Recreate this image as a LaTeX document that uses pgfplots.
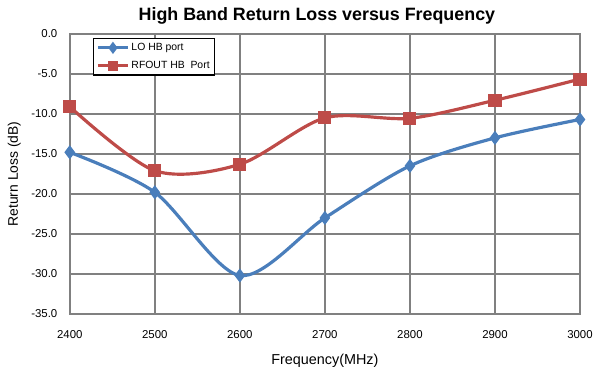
\documentclass[border=0pt]{standalone}
\usepackage{pgfplots}
\pgfplotsset{compat=1.18}
\usepackage{fontspec}
\setmainfont{Liberation Sans}
\definecolor{loblue}{HTML}{4A7EBB}
\definecolor{rfred}{HTML}{BE4B48}
\definecolor{gridgray}{HTML}{808080}
\begin{document}
\begin{tikzpicture}
\begin{axis}[
  name=ax,
  scale only axis,
  width=512bp, height=281bp,
  xmin=2400, xmax=3000, ymin=-35, ymax=0,
  xtick={2400,2500,...,3000},
  ytick={-35,-30,...,0},
  /pgf/number format/assume math mode=true,
  xticklabel style={font=\fontsize{11.5}{13}\selectfont, /pgf/number format/1000 sep={}, anchor=base, yshift=-25bp},
  yticklabel style={font=\fontsize{11.5}{13}\selectfont, anchor=east, xshift=-9bp, /pgf/number format/.cd, fixed, fixed zerofill, precision=1},
  scaled ticks=false,
  grid=major,
  major grid style={gridgray, line width=1.8bp},
  axis line style={gridgray, line width=1.8bp},
  tick style={draw=none},
  legend style={at={(rel axis cs:0.045,0.986)}, anchor=north west, draw=black, line width=1.4bp,
    font=\fontsize{10.5}{12}\selectfont, row sep=5bp, inner xsep=3bp, inner ysep=3bp},
  legend cell align=left,
  legend image code/.code={\draw[mark repeat=2,mark phase=2,#1, mark size=3.5bp] plot coordinates {(0bp,0bp)(15bp,0bp)(30bp,0bp)};},
  clip=false,
]
\addplot[loblue, line width=3.2bp, smooth, tension=0.5, mark=diamond*, mark size=4.5bp, mark options={solid, fill=loblue}]
  coordinates {(2400,-14.8) (2500,-19.8) (2600,-30.2) (2700,-23.0) (2800,-16.5) (2900,-13.0) (3000,-10.7)};
\addlegendentry{LO HB port}
\addplot[rfred, line width=3.2bp, smooth, tension=0.5, mark=square*, mark size=5bp, mark options={solid, fill=rfred}]
  coordinates {(2400,-9.1) (2500,-17.1) (2600,-16.3) (2700,-10.5) (2800,-10.55) (2900,-8.3) (3000,-5.65)};
\addlegendentry{RFOUT HB\ \ Port}
\end{axis}
\node[font=\fontsize{18}{20}\selectfont\bfseries, anchor=base] at ([xshift=-8bp,yshift=13.5bp]ax.north) {High Band Return Loss versus Frequency};
\node[font=\fontsize{14.5}{16}\selectfont, anchor=base] at ([yshift=-51bp]ax.south) {Frequency(MHz)};
\node[font=\fontsize{14}{16}\selectfont, anchor=base, rotate=90] at ([xshift=-52bp]ax.west) {Return Loss (dB)};
\path[use as bounding box] ([shift={(-70bp,-58bp)}]ax.south west) rectangle ([shift={(14bp,34bp)}]ax.north east);
\end{tikzpicture}
\end{document}
